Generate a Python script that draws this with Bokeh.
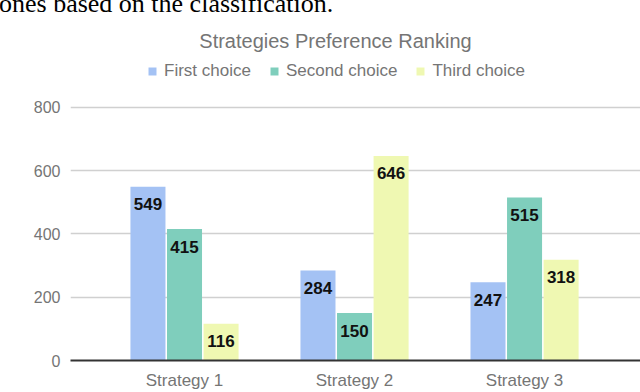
from bokeh.plotting import figure
from bokeh.layouts import column
from bokeh.models import ColumnDataSource, Range1d, FixedTicker, Label, Legend, LegendItem, Div
from bokeh.transform import dodge
from bokeh.core.properties import value
from bokeh.embed import file_html
from bokeh.resources import INLINE

categories = ["Strategy 1", "Strategy 2", "Strategy 3"]
series_names = ["First choice", "Second choice", "Third choice"]
first_choice = [549, 284, 247]
second_choice = [415, 150, 515]
third_choice = [116, 646, 318]
y_ticks = [0, 200, 400, 600, 800]
colors = ["#a4c2f4", "#7fcebc", "#eff8b2"]
title_text = "Strategies Preference Ranking"
caption_text = "ones based on the classification."

FONT = "Liberation Sans"
GREY = "#757575"

TOP = 13
W, H = 640, 392 - TOP

caption = Div(text=('<div style="position:relative; top:-9px; left:-1px; '
                    'font-family:\'Liberation Serif\'; font-size:26px; line-height:26px; '
                    'color:#000; white-space:nowrap;">' + caption_text + '</div>'),
              width=W, height=TOP, margin=(0, 0, 0, 0))

p = figure(width=W, height=H, output_backend="svg", toolbar_location=None,
           x_range=Range1d(-0.6706, 2.682), y_range=Range1d(0, 1096),
           min_border_left=70, min_border_right=0, min_border_top=0,
           min_border_bottom=0, margin=(0, 0, 0, 0))
p.outline_line_color = None
p.background_fill_color = "white"
p.border_fill_color = "white"

xs = list(range(len(categories)))
src = ColumnDataSource(dict(x=xs, first=first_choice, second=second_choice, third=third_choice,
                            first_t=[str(v) for v in first_choice],
                            second_t=[str(v) for v in second_choice],
                            third_t=[str(v) for v in third_choice]))

offsets = [-0.215, 0.0, 0.215]
cols = ["first", "second", "third"]
items = []
for col, off, c, name in zip(cols, offsets, colors, series_names):
    r = p.vbar(x=dodge("x", off), top=col, width=0.206, bottom=0, source=src,
               fill_color=c, line_color=None)
    items.append(LegendItem(label=name, renderers=[r]))
    p.text(x=dodge("x", off), y=col, text=col + "_t", source=src,
           text_align="center", text_baseline="middle", y_offset=17.5,
           text_font=value(FONT), text_font_style="bold", text_font_size="17px",
           text_color="#111111")

# axes
p.xaxis.ticker = FixedTicker(ticks=xs)
p.xaxis.major_label_overrides = {i: c for i, c in enumerate(categories)}
p.xaxis.major_tick_line_color = None
p.xaxis.major_tick_out = 0
p.xaxis.major_tick_in = 0
p.xaxis.minor_tick_line_color = None
p.xaxis.axis_line_color = "#333333"
p.xaxis.axis_line_width = 2
p.xaxis.major_label_text_font = FONT
p.xaxis.major_label_text_font_size = "17px"
p.xaxis.major_label_text_color = GREY
p.xaxis.major_label_standoff = 10

p.yaxis.ticker = FixedTicker(ticks=y_ticks)
p.yaxis.axis_line_color = None
p.yaxis.major_tick_line_color = None
p.yaxis.major_tick_out = 0
p.yaxis.major_tick_in = 0
p.yaxis.minor_tick_line_color = None
p.yaxis.major_label_text_font = FONT
p.yaxis.major_label_text_font_size = "16px"
p.yaxis.major_label_text_color = GREY
p.yaxis.major_label_standoff = 10

p.xgrid.grid_line_color = None
p.ygrid.grid_line_color = "#d0d0d0"
p.ygrid.grid_line_width = 1.5

# title (inside the tall frame, above the 800 line)
p.add_layout(Label(x=0.888, y=1008, text=title_text, text_align="center",
                   text_baseline="alphabetic", text_font=FONT, text_font_size="20px",
                   text_color=GREY))

legend = Legend(items=items, orientation="horizontal", location=(77, 279),
                glyph_width=10, glyph_height=10, label_standoff=7, spacing=18,
                label_text_font=FONT, label_text_font_size="17px", label_text_color=GREY,
                label_height=17, padding=0, margin=0, border_line_color=None,
                background_fill_alpha=0)
p.add_layout(legend, "center")

layout = column(caption, p, spacing=0, margin=(0, 0, 0, 0))
open("out.html", "w").write(file_html(layout, INLINE))
